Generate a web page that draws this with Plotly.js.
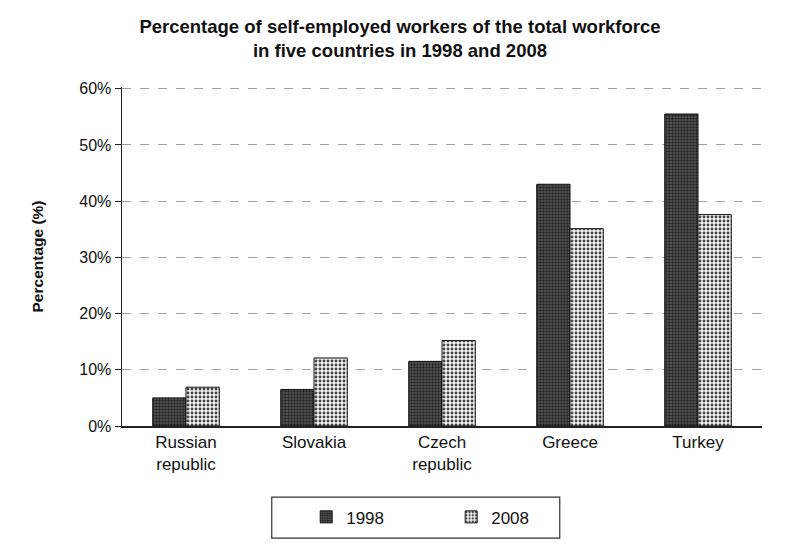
<!DOCTYPE html>
<html>
<head>
<meta charset="utf-8">
<script src="https://cdn.plot.ly/plotly-3.0.1.min.js"></script>
<style>html,body{margin:0;padding:0;background:#fff;}#chart{width:800px;height:548px;}</style>
</head>
<body>
<div id="chart"></div>
<script>
var categories = ["Russian<br>republic", "Slovakia", "Czech<br>republic", "Greece", "Turkey"];
var values1998 = [5.0, 6.5, 11.5, 43.0, 55.5];
var values2008 = [6.9, 12.1, 15.2, 35.1, 37.6];
var yTickVals = [0, 10, 20, 30, 40, 50, 60];
var yTickText = ["0%", "10%", "20%", "30%", "40%", "50%", "60%"];

var font = "Arial, 'Liberation Sans', sans-serif";

var trace1998 = {
  type: "bar", name: "1998", x: categories, y: values1998,
  marker: {
    color: "#4a4a4a",
    line: {color: "#111111", width: 1},
    pattern: {shape: ".", fgcolor: "#222222", bgcolor: "#5a5a5a", size: 3, solidity: 0.5}
  }
};
var trace2008 = {
  type: "bar", name: "2008", x: categories, y: values2008,
  marker: {
    color: "#eeeeee",
    line: {color: "#111111", width: 1},
    pattern: {shape: ".", fgcolor: "#444444", bgcolor: "#f4f4f4", size: 4, solidity: 0.4}
  }
};

var layout = {
  width: 800, height: 548,
  paper_bgcolor: "#fff", plot_bgcolor: "#fff",
  margin: {l: 122, r: 38, t: 87, b: 122, autoexpand: false},
  font: {family: font, color: "#111", size: 16},
  title: {
    text: "<b>Percentage of self-employed workers of the total workforce<br>in five countries in 1998 and 2008</b>",
    x: 0.5, xanchor: "center", yref: "container", y: 0.94, yanchor: "top",
    font: {family: font, size: 18.5, color: "#111"}
  },
  bargap: 0.48, bargroupgap: 0,
  xaxis: {
    type: "category", automargin: false,
    showline: true, linecolor: "#222", linewidth: 1.5,
    ticks: "", showgrid: false,
    tickfont: {family: font, size: 17, color: "#111"}
  },
  yaxis: {
    range: [0, 60.3], tickvals: yTickVals, ticktext: yTickText, automargin: false,
    showline: true, linecolor: "#222", linewidth: 1.5,
    ticks: "outside", ticklen: 6, tickcolor: "#222",
    showgrid: true, gridcolor: "#a0a0a0", griddash: "dash", gridwidth: 1,
    zeroline: false,
    tickfont: {family: font, size: 16, color: "#111"},
    title: {text: "<b>Percentage (%)</b>", standoff: 32, font: {family: font, size: 15.5, color: "#111"}}
  },
  legend: {
    orientation: "h", xref: "container", x: 0.564, xanchor: "center",
    yref: "container", y: 0.056, yanchor: "middle",
    borderwidth: 0, bgcolor: "rgba(0,0,0,0)",
    entrywidth: 100, itemwidth: 30,
    font: {family: font, size: 17, color: "#111"}
  },
  shapes: [{
    type: "rect", xref: "paper", yref: "paper",
    x0: 0.234, x1: 0.684, y0: -0.331, y1: -0.21,
    line: {color: "#333", width: 1.2}, fillcolor: "rgba(0,0,0,0)", layer: "above"
  }],
  showlegend: true
};

Plotly.newPlot("chart", [trace1998, trace2008], layout, {displayModeBar: false, staticPlot: true});
</script>
</body>
</html>
